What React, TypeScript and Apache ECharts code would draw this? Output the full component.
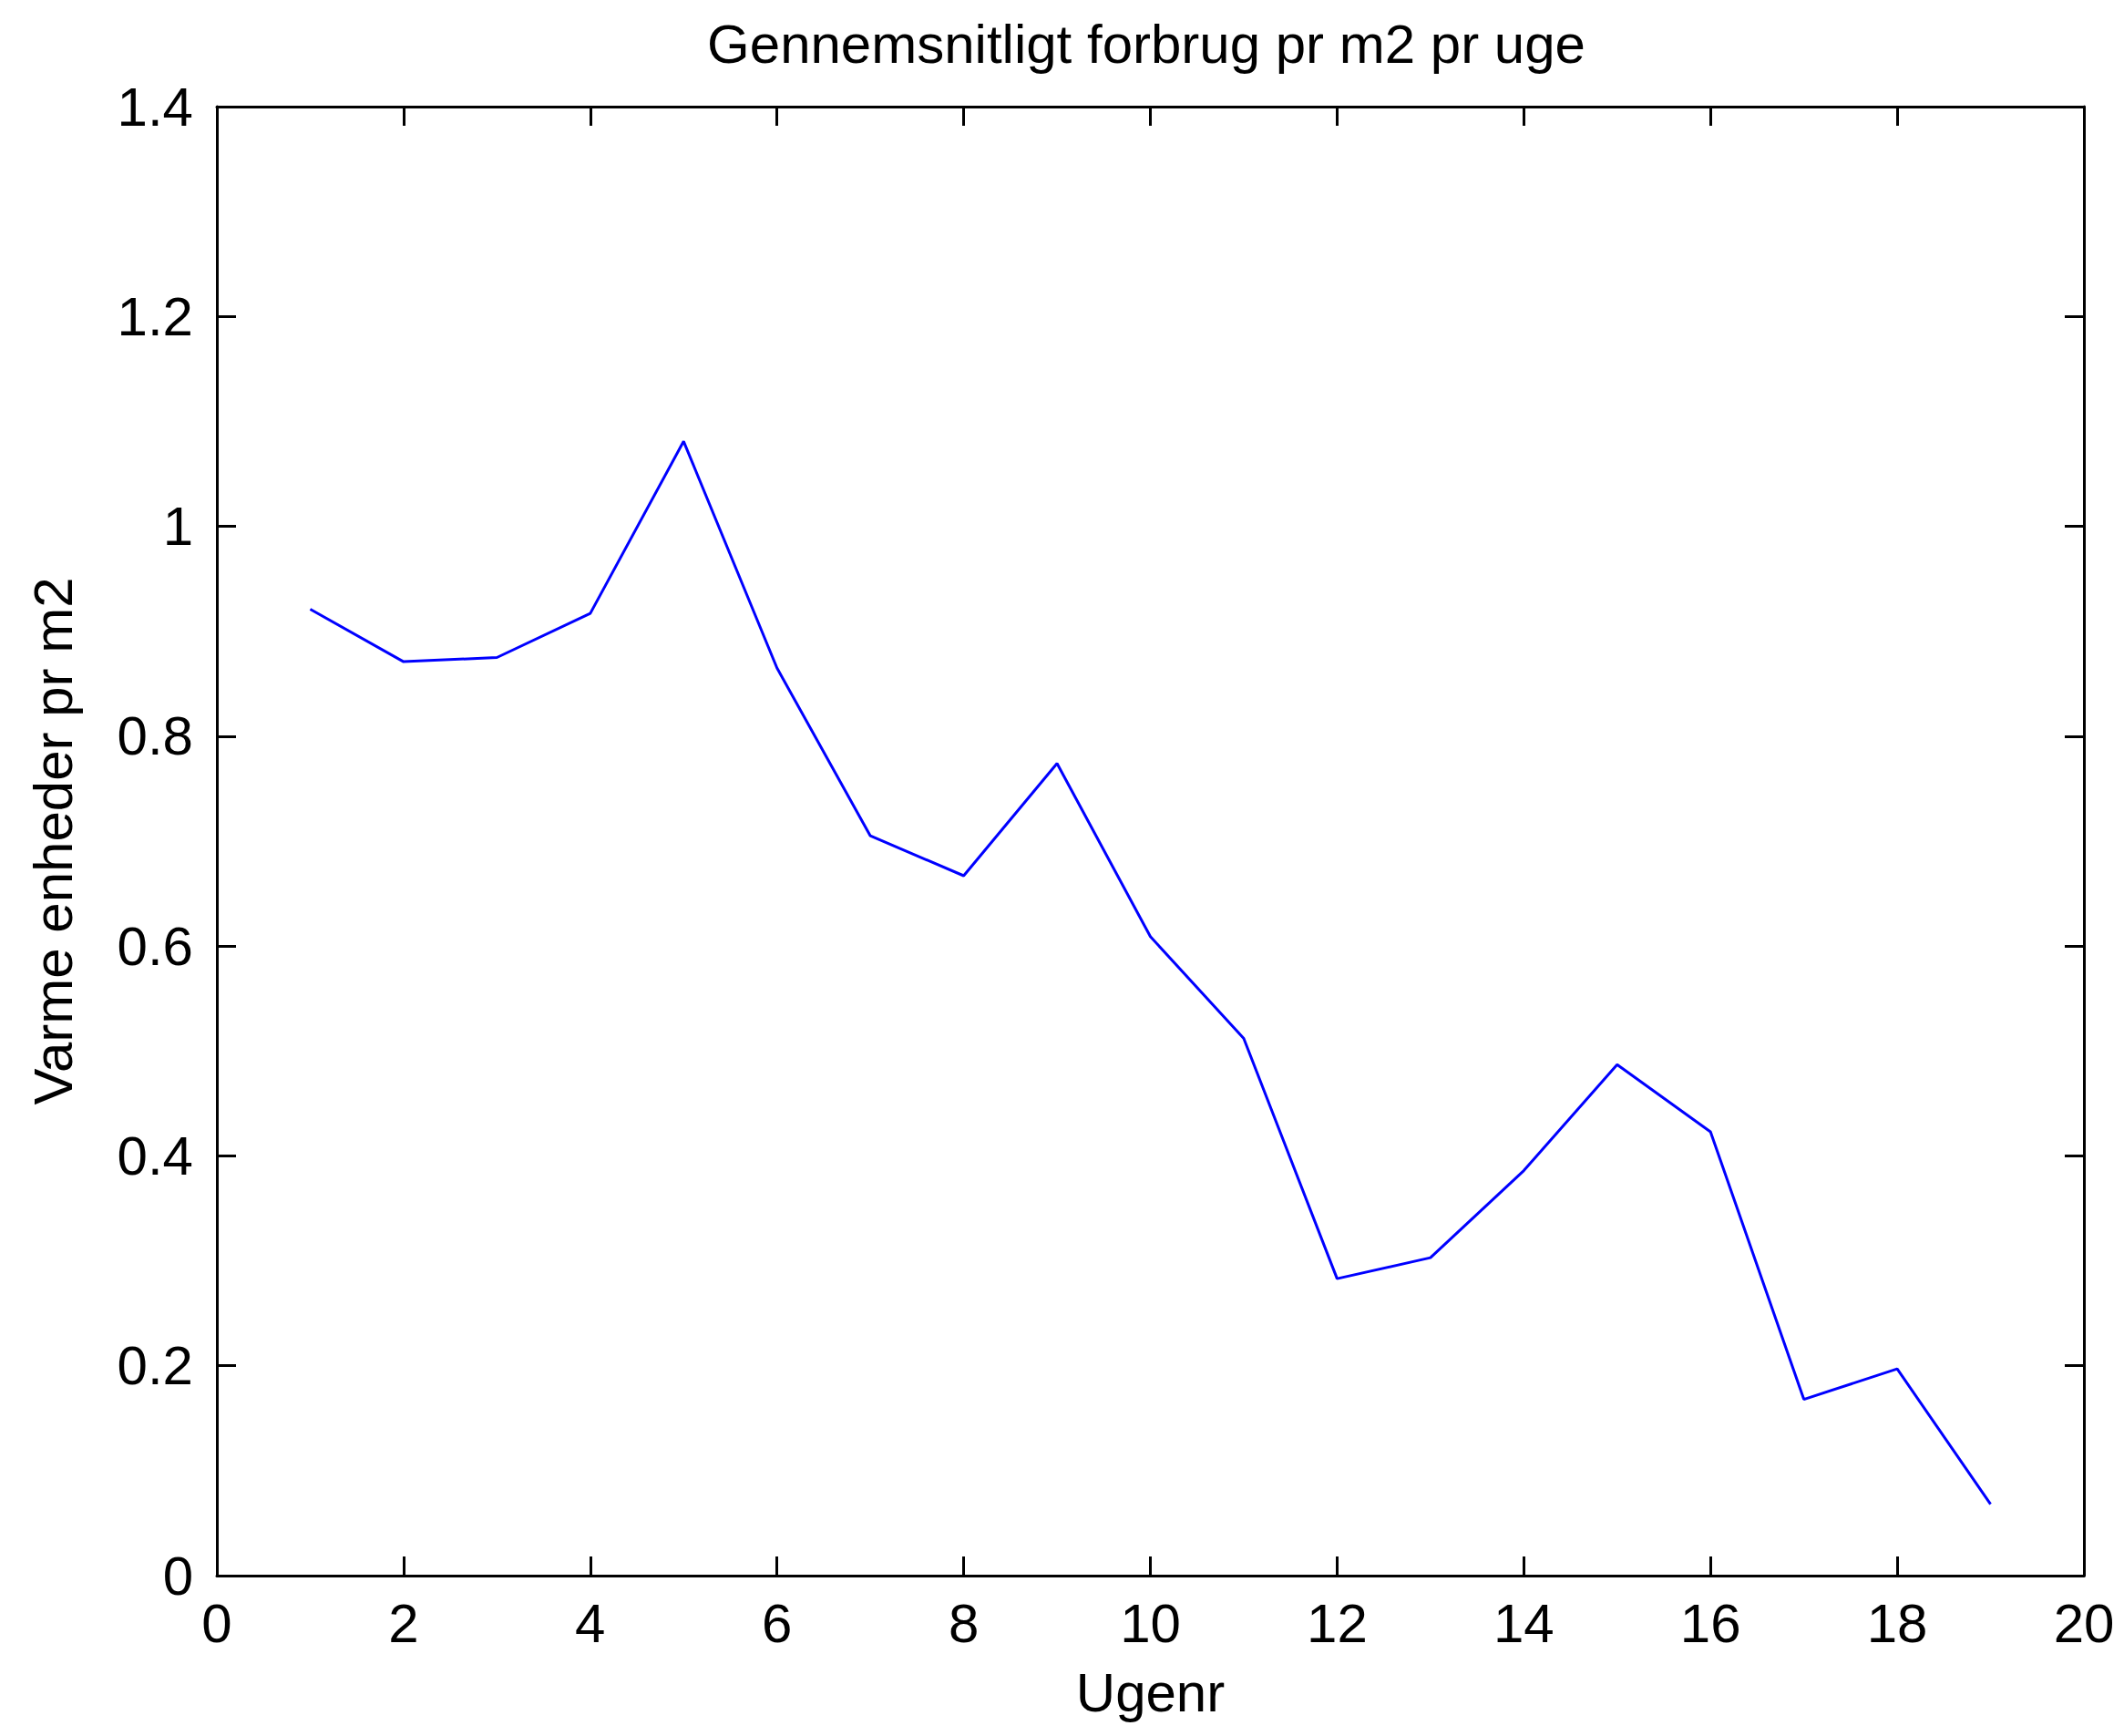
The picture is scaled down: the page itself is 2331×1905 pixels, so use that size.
import React, { useEffect, useRef } from "react";
import * as echarts from "echarts";

const weeks = [1, 2, 3, 4, 5, 6, 7, 8, 9, 10, 11, 12, 13, 14, 15, 16, 17, 18, 19];
const values = [0.921, 0.871, 0.875, 0.917, 1.081, 0.865, 0.705, 0.667, 0.774, 0.609, 0.512, 0.283, 0.303, 0.386, 0.487, 0.423, 0.168, 0.197, 0.068];

const titleText = "Gennemsnitligt forbrug pr m2 pr uge";
const xName = "Ugenr";
const yName = "Varme enheder pr m2";

const FONT = "'Liberation Sans', Arial, Helvetica, sans-serif";
const FS = 60;

export default function App() {
  const ref = useRef<HTMLDivElement>(null);
  useEffect(() => {
    if (!ref.current) return;
    const chart = echarts.init(ref.current, null, { renderer: "svg" });
    const axisLine = { show: true, onZero: false, lineStyle: { color: "#000", width: 3 } };
    const tick = { show: true, inside: true, length: 21, lineStyle: { color: "#000", width: 3 } };
    const labelStyle = { color: "#000", fontSize: FS, fontFamily: FONT };
    chart.setOption({
      animation: false,
      backgroundColor: "#fff",
      grid: { left: 238, top: 117, width: 2049, height: 1612, containLabel: false },
      graphic: [
        {
          type: "text",
          x: 1258,
          y: 48,
          style: { text: titleText, fontSize: FS, fontFamily: FONT, fill: "#000", align: "center", verticalAlign: "middle" },
        },
      ],
      xAxis: [
        {
          type: "value",
          min: 0,
          max: 20,
          interval: 2,
          position: "bottom",
          name: xName,
          nameLocation: "middle",
          nameGap: 98,
          nameTextStyle: labelStyle,
          axisLine,
          axisTick: tick,
          axisLabel: { ...labelStyle, margin: 22 },
          splitLine: { show: false },
        },
        {
          type: "value",
          min: 0,
          max: 20,
          interval: 2,
          position: "top",
          axisLine,
          axisTick: tick,
          axisLabel: { show: false },
          splitLine: { show: false },
        },
      ],
      yAxis: [
        {
          type: "value",
          min: 0,
          max: 1.4,
          interval: 0.2,
          position: "left",
          name: yName,
          nameLocation: "middle",
          nameGap: 150,
          nameTextStyle: labelStyle,
          axisLine,
          axisTick: tick,
          axisLabel: { ...labelStyle, margin: 26 },
          splitLine: { show: false },
        },
        {
          type: "value",
          min: 0,
          max: 1.4,
          interval: 0.2,
          position: "right",
          axisLine,
          axisTick: tick,
          axisLabel: { show: false },
          splitLine: { show: false },
        },
      ],
      series: [
        {
          type: "line",
          data: weeks.map((w, i) => [w, values[i]]),
          showSymbol: false,
          symbol: "none",
          lineStyle: { color: "#0000ff", width: 3 },
          itemStyle: { color: "#0000ff" },
        },
      ],
    });
    return () => chart.dispose();
  }, []);
  return <div ref={ref} style={{ position: "absolute", left: 0, top: 0, width: 2331, height: 1905 }} />;
}
